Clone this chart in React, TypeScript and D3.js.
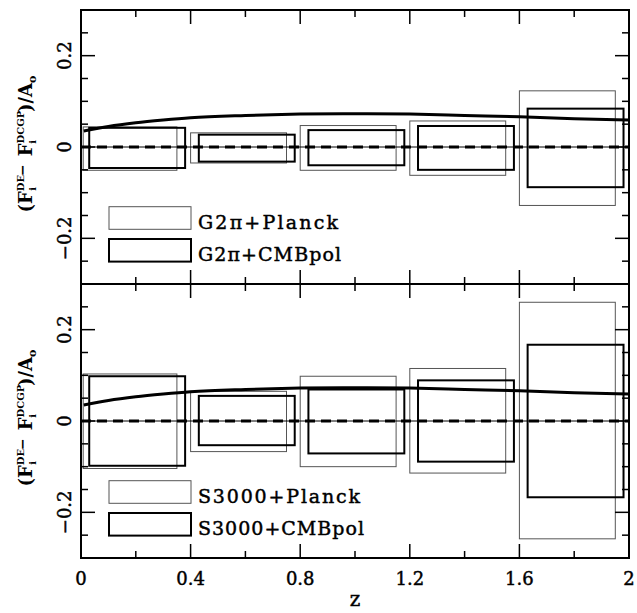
import React from 'react';
import * as d3 from 'd3';

const W = 637;
const H = 613;

// x axis ticks
const xMajor = [0, 0.4, 0.8, 1.2, 1.6, 2];
const xMajorLabels = ['0', '0.4', '0.8', '1.2', '1.6', '2'];
const xMinor = [0.2, 0.6, 1.0, 1.4, 1.8];
// y axis ticks
const yMajor = [-0.2, 0, 0.2];
const yMajorLabels = ['\u22120.2', '0', '0.2'];
const yMinor = [-0.25, -0.15, -0.1, -0.05, 0.05, 0.1, 0.15, 0.25];

// bin edges (z)
const planckX0 = [0.008, 0.4, 0.8, 1.2, 1.6];
const planckX1 = [0.35, 0.75, 1.15, 1.55, 1.95];
const cmbX0 = [0.03, 0.43, 0.83, 1.23, 1.63];
const cmbX1 = [0.38, 0.78, 1.18, 1.58, 1.98];

// top panel: G2pi
const g2PlanckHi = [0.044, 0.031, 0.047, 0.057, 0.123];
const g2PlanckLo = [-0.051, -0.035, -0.051, -0.062, -0.128];
const g2CmbHi = [0.042, 0.027, 0.037, 0.046, 0.084];
const g2CmbLo = [-0.046, -0.032, -0.040, -0.050, -0.088];

// bottom panel: S3000
const s3PlanckHi = [0.103, 0.065, 0.098, 0.115, 0.26];
const s3PlanckLo = [-0.104, -0.067, -0.1, -0.114, -0.258];
const s3CmbHi = [0.098, 0.055, 0.069, 0.089, 0.167];
const s3CmbLo = [-0.098, -0.053, -0.071, -0.089, -0.167];

// theory curve
const curveZ = [0.01, 0.1, 0.2, 0.3, 0.4, 0.6, 0.8, 1.0, 1.2, 1.4, 1.6, 1.8, 2.0];
const curveV = [0.035, 0.045, 0.053, 0.059, 0.064, 0.069, 0.072, 0.073, 0.072, 0.069, 0.066, 0.062, 0.059];

const legendLabelsTop = ['G2\u03c0+Planck', 'G2\u03c0+CMBpol'];
const legendLabelsBottom = ['S3000+Planck', 'S3000+CMBpol'];
const legendLenTop = [140, 143];
const legendLenBottom = [162, 166];

const FONT = 'DejaVu Serif';
const L = 81;
const R = 629;
const TS = { stroke: '#000', strokeWidth: 0.45 };

const x = d3.scaleLinear().domain([0, 2]).range([L, R]);

type PanelProps = {
  top: number;
  bottom: number;
  pHi: number[];
  pLo: number[];
  cHi: number[];
  cLo: number[];
  legend: string[];
  legendLen: number[];
};

function Panel({ top, bottom, pHi, pLo, cHi, cLo, legend, legendLen }: PanelProps) {
  const y = d3.scaleLinear().domain([-0.3, 0.3]).range([bottom, top]);
  const line = d3
    .line<number>()
    .x((_, i) => x(curveZ[i]))
    .y((d) => y(d))
    .curve(d3.curveMonotoneX);
  const major = 14;
  const minor = 7;
  const mid = (top + bottom) / 2;
  return (
    <g>
      {planckX0.map((x0, i) => (
        <rect
          key={'p' + i}
          x={x(x0)}
          y={y(pHi[i])}
          width={x(planckX1[i]) - x(x0)}
          height={y(pLo[i]) - y(pHi[i])}
          fill="none"
          stroke="#555"
          strokeWidth={1}
        />
      ))}
      {cmbX0.map((x0, i) => (
        <rect
          key={'c' + i}
          x={x(x0)}
          y={y(cHi[i])}
          width={x(cmbX1[i]) - x(x0)}
          height={y(cLo[i]) - y(cHi[i])}
          fill="none"
          stroke="#000"
          strokeWidth={2}
        />
      ))}
      <line x1={L} x2={R} y1={y(0)} y2={y(0)} stroke="#000" strokeWidth={1} />
      <line x1={L} x2={R} y1={y(0)} y2={y(0)} stroke="#000" strokeWidth={3} strokeDasharray="10,6" />
      <path d={line(curveV) || ''} fill="none" stroke="#000" strokeWidth={3} />
      <rect x={L} y={top} width={R - L} height={bottom - top} fill="none" stroke="#000" strokeWidth={2} />
      {xMajor.map((v) => (
        <g key={'xM' + v}>
          <line x1={x(v)} x2={x(v)} y1={bottom} y2={bottom - major} stroke="#000" strokeWidth={1.5} />
          <line x1={x(v)} x2={x(v)} y1={top} y2={top + major} stroke="#000" strokeWidth={1.5} />
        </g>
      ))}
      {xMinor.map((v) => (
        <g key={'xm' + v}>
          <line x1={x(v)} x2={x(v)} y1={bottom} y2={bottom - minor} stroke="#000" strokeWidth={1.5} />
          <line x1={x(v)} x2={x(v)} y1={top} y2={top + minor} stroke="#000" strokeWidth={1.5} />
        </g>
      ))}
      {yMajor.map((v) => (
        <g key={'yM' + v}>
          <line x1={L} x2={L + major} y1={y(v)} y2={y(v)} stroke="#000" strokeWidth={1.5} />
          <line x1={R} x2={R - major} y1={y(v)} y2={y(v)} stroke="#000" strokeWidth={1.5} />
        </g>
      ))}
      {yMinor.map((v) => (
        <g key={'ym' + v}>
          <line x1={L} x2={L + minor} y1={y(v)} y2={y(v)} stroke="#000" strokeWidth={1.5} />
          <line x1={R} x2={R - minor} y1={y(v)} y2={y(v)} stroke="#000" strokeWidth={1.5} />
        </g>
      ))}
      {yMajor.map((v, i) => (
        <text
          key={'yl' + v}
          transform={`translate(71,${y(v)}) rotate(-90)`}
          textAnchor="middle"
          fontFamily={FONT}
          fontSize={18}
          {...TS}
        >
          {yMajorLabels[i]}
        </text>
      ))}
      <text
        transform={`translate(32,${mid - 3}) rotate(-90)`}
        textAnchor="middle"
        fontFamily={FONT}
        fontSize={18}
        fontWeight="bold"
      >
        <tspan>(F</tspan>
        <tspan fontSize={10} dy={-8}>DE</tspan>
        <tspan fontSize={10} dx={-16} dy={12}>i</tspan>
        <tspan fontSize={14} dx={11} dy={-9}>{'\u2212'}</tspan>
        <tspan dx={8} dy={5}>F</tspan>
        <tspan fontSize={10} dy={-8}>DCGP</tspan>
        <tspan fontSize={10} dx={-33} dy={12}>i</tspan>
        <tspan dx={28} dy={-4}>)/A</tspan>
        <tspan fontSize={11} dy={4}>o</tspan>
      </text>
      {legend.map((lab, i) => {
        const by = top + 196.7 + i * 32.3;
        return (
          <g key={'lg' + i}>
            <rect
              x={109}
              y={by}
              width={82}
              height={22.6}
              fill="none"
              stroke={i === 0 ? '#555' : '#000'}
              strokeWidth={i === 0 ? 1 : 2}
            />
            <text
              x={198}
              y={by + 22}
              fontFamily={FONT}
              fontSize={19}
              textLength={legendLen[i]}
              lengthAdjust="spacing"
              {...TS}
            >
              {lab}
            </text>
          </g>
        );
      })}
    </g>
  );
}

export default function App() {
  return (
    <svg width={W} height={H} style={{ display: 'block', position: 'absolute', left: 0, top: 0, background: '#fff' }}>
      <rect width={W} height={H} fill="#fff" />
      <Panel
        top={10}
        bottom={284}
        pHi={g2PlanckHi}
        pLo={g2PlanckLo}
        cHi={g2CmbHi}
        cLo={g2CmbLo}
        legend={legendLabelsTop}
        legendLen={legendLenTop}
      />
      <Panel
        top={284}
        bottom={558}
        pHi={s3PlanckHi}
        pLo={s3PlanckLo}
        cHi={s3CmbHi}
        cLo={s3CmbLo}
        legend={legendLabelsBottom}
        legendLen={legendLenBottom}
      />
      {xMajor.map((v, i) => (
        <text key={'xl' + v} x={x(v)} y={585} textAnchor="middle" fontFamily={FONT} fontSize={18} {...TS}>
          {xMajorLabels[i]}
        </text>
      ))}
      <text x={(L + R) / 2} y={606} textAnchor="middle" fontFamily={FONT} fontSize={20} {...TS}>
        z
      </text>
    </svg>
  );
}
